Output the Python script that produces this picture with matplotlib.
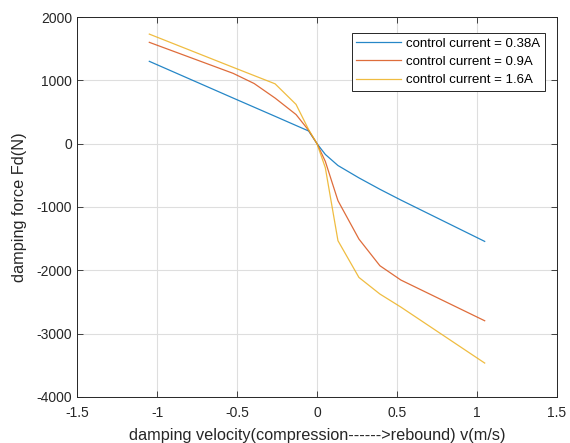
import matplotlib
matplotlib.use("Agg")
import matplotlib.pyplot as plt

plt.rcParams['font.family'] = ['Liberation Sans', 'DejaVu Sans']
plt.rcParams['axes.unicode_minus'] = False

velocity = [-1.048, -0.524, -0.393, -0.262, -0.131, -0.052, 0.0,
            0.052, 0.131, 0.262, 0.393, 0.524, 1.048]
force_038 = [1300, 720, 576, 432, 287, 200, 0,
             -170, -345, -540, -720, -890, -1543]
force_09 = [1600, 1110, 950, 720, 460, 210, 0,
            -280, -900, -1506, -1927, -2153, -2796]
force_16 = [1730, 1205, 1075, 945, 620, 220, 0,
            -380, -1532, -2112, -2374, -2580, -3464]
labels = ['control current = 0.38A', 'control current = 0.9A', 'control current = 1.6A']
colors = ['#0072BD', '#D95319', '#EDB120']

fig = plt.figure(figsize=(5.7, 4.43), dpi=100)
ax = fig.add_axes([77/570, 1-397/443, 480/570, 380/443])

for f, lab, c in zip([force_038, force_09, force_16], labels, colors):
    ax.plot(velocity, f, color=c, lw=0.9, alpha=0.85, label=lab)

ax.set_xlim(-1.5, 1.5)
ax.set_ylim(-4000, 2000)
ax.set_xticks([-1.5, -1, -0.5, 0, 0.5, 1, 1.5])
ax.set_xticklabels(['-1.5', '-1', '-0.5', '0', '0.5', '1', '1.5'])
ax.set_yticks(range(-4000, 2001, 1000))
ax.grid(True, color='#dedede', lw=0.8)
ax.set_axisbelow(True)
ax.tick_params(direction='in', top=True, right=True, length=4, width=0.6,
               colors='#262626', labelsize=10, labelcolor='#262626')
ax.tick_params(axis='x', pad=6.5)
for s in ax.spines.values():
    s.set_color('#262626')
    s.set_linewidth(0.7)
ax.set_xlabel('damping velocity(compression------>rebound) v(m/s)', fontsize=11.7,
              color='#262626', labelpad=5.5)
ax.set_ylabel('damping force Fd(N)', fontsize=11.7, color='#262626', labelpad=7)

leg = ax.legend(loc='upper right', bbox_to_anchor=(0.975, 0.958), borderaxespad=0,
                fontsize=9.5, fancybox=False, edgecolor='#262626', framealpha=1,
                handlelength=3.4, borderpad=0.35, labelspacing=0.45, handletextpad=0.4)
leg.get_frame().set_linewidth(0.7)

fig.savefig('out.png', dpi=100)
